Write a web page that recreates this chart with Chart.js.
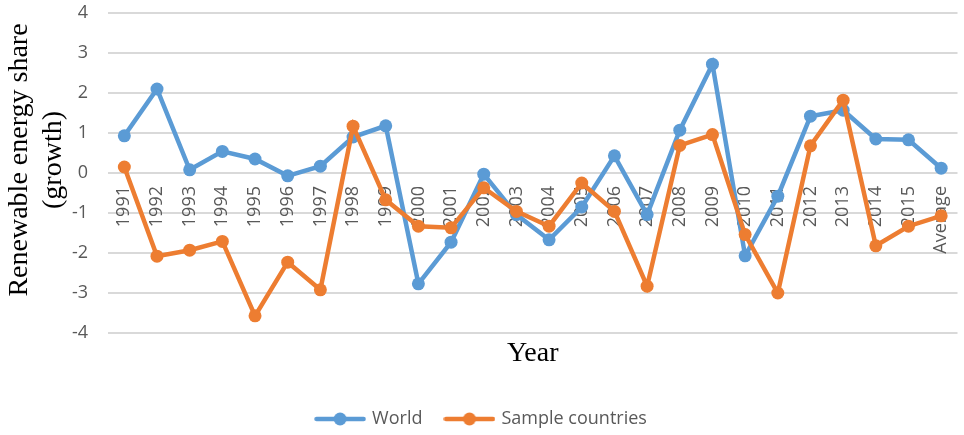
<!DOCTYPE html>
<html>
<head>
<meta charset="utf-8">
<script src="https://cdn.jsdelivr.net/npm/chart.js@4/dist/chart.umd.min.js"></script>
<style>
  html, body { margin: 0; padding: 0; background: #ffffff; }
  #wrap { width: 964px; height: 435px; }
</style>
</head>
<body>
<div id="wrap"><canvas id="chart" width="964" height="435"></canvas></div>
<script>
// Categories along the x axis
const years = ['1991','1992','1993','1994','1995','1996','1997','1998','1999','2000',
               '2001','2002','2003','2004','2005','2006','2007','2008','2009','2010',
               '2011','2012','2013','2014','2015','Average'];

// Growth of the renewable energy share
const world = [0.93, 2.10, 0.08, 0.54, 0.35, -0.07, 0.17, 0.90, 1.18, -2.77,
               -1.73, -0.03, -1.04, -1.67, -0.85, 0.43, -1.04, 1.07, 2.72, -2.07,
               -0.58, 1.42, 1.57, 0.85, 0.83, 0.12];
const sampleCountries = [0.15, -2.08, -1.93, -1.71, -3.57, -2.23, -2.92, 1.17, -0.67, -1.33,
                         -1.37, -0.37, -0.96, -1.33, -0.25, -0.96, -2.83, 0.69, 0.96, -1.54,
                         -3.00, 0.68, 1.82, -1.82, -1.33, -1.07];

// Value axis range
const yMin = -4;
const yMax = 4;
const yStep = 1;

const BLUE = '#5B9BD5';
const ORANGE = '#ED7D31';
const TICK_GREY = '#595959';

// Legend swatch: a short line with a marker in the middle
function makeSwatch(color) {
  const c = document.createElement('canvas');
  c.width = 52; c.height = 14;
  const g = c.getContext('2d');
  g.strokeStyle = color;
  g.lineWidth = 4.5;
  g.lineCap = 'round';
  g.beginPath(); g.moveTo(2.5, 7); g.lineTo(49.5, 7); g.stroke();
  g.fillStyle = color;
  g.beginPath(); g.arc(26, 7, 6.5, 0, Math.PI * 2); g.fill();
  return c;
}
const swatches = [makeSwatch(BLUE), makeSwatch(ORANGE)];

// Two-line rotated title for the value axis
const valueAxisTitle = {
  id: 'valueAxisTitle',
  afterDraw(chart) {
    const { ctx, chartArea } = chart;
    const cy = (chartArea.top + chartArea.bottom) / 2 - 13;
    ctx.save();
    ctx.fillStyle = '#000000';
    ctx.font = '28px "Liberation Serif", "Times New Roman", serif';
    ctx.textAlign = 'center';
    ctx.textBaseline = 'middle';
    ctx.translate(chartArea.left - 88, cy);
    ctx.rotate(-Math.PI / 2);
    ctx.fillText('Renewable energy share', 0, 0);
    ctx.fillText('(growth)', 0, 34);
    ctx.restore();
  }
};

new Chart(document.getElementById('chart'), {
  type: 'line',
  data: {
    labels: years,
    datasets: [
      {
        label: 'World',
        data: world,
        borderColor: BLUE,
        backgroundColor: BLUE,
        pointBackgroundColor: BLUE,
        pointBorderColor: BLUE,
        borderWidth: 4.5,
        pointRadius: 6.5,
        pointBorderWidth: 0,
        tension: 0,
        order: 2
      },
      {
        label: 'Sample countries',
        data: sampleCountries,
        borderColor: ORANGE,
        backgroundColor: ORANGE,
        pointBackgroundColor: ORANGE,
        pointBorderColor: ORANGE,
        borderWidth: 4.5,
        pointRadius: 6.5,
        pointBorderWidth: 0,
        tension: 0,
        order: 1
      }
    ]
  },
  options: {
    responsive: false,
    animation: false,
    devicePixelRatio: 1,
    layout: { padding: { top: 13, right: 0, bottom: -3, left: 0 } },
    scales: {
      x: {
        type: 'category',
        position: { y: 0 },
        offset: true,
        z: 1,
        grid: { display: false, drawTicks: false },
        border: { display: false },
        ticks: {
          autoSkip: false,
          minRotation: 90,
          maxRotation: 90,
          padding: 13,
          color: TICK_GREY,
          font: { family: '"Open Sans", sans-serif', size: 18 }
        },
        afterFit(scale) { scale.paddingLeft = 0; scale.paddingRight = 0; }
      },
      xTitle: {
        type: 'category',
        axis: 'x',
        labels: years,
        position: 'bottom',
        offset: true,
        grid: { display: false, drawTicks: false },
        border: { display: false },
        ticks: { display: false },
        title: {
          display: true,
          text: 'Year',
          color: '#000000',
          font: { family: '"Liberation Serif", "Times New Roman", serif', size: 28 },
          padding: { top: 0, bottom: 16 }
        },
        afterFit(scale) { scale.height = 53; }
      },
      y: {
        min: yMin,
        max: yMax,
        grid: { color: '#d9d9d9', lineWidth: 2, drawTicks: false },
        border: { display: false },
        ticks: {
          stepSize: yStep,
          padding: 20,
          color: TICK_GREY,
          font: { family: '"Open Sans", sans-serif', size: 18 }
        },
        afterFit(scale) {
          scale.width = 108;
          scale.paddingTop = 0;
          scale.paddingBottom = 0;
        }
      }
    },
    plugins: {
      tooltip: { enabled: false },
      legend: {
        position: 'bottom',
        labels: {
          usePointStyle: true,
          pointStyleWidth: 46,
          padding: 24,
          color: TICK_GREY,
          font: { family: '"Open Sans", sans-serif', size: 18 },
          sort: (a, b) => a.datasetIndex - b.datasetIndex,
          generateLabels(chart) {
            const items = Chart.defaults.plugins.legend.labels.generateLabels(chart);
            items.forEach(it => { it.pointStyle = swatches[it.datasetIndex]; });
            return items;
          }
        }
      }
    }
  },
  plugins: [valueAxisTitle]
});
</script>
</body>
</html>
